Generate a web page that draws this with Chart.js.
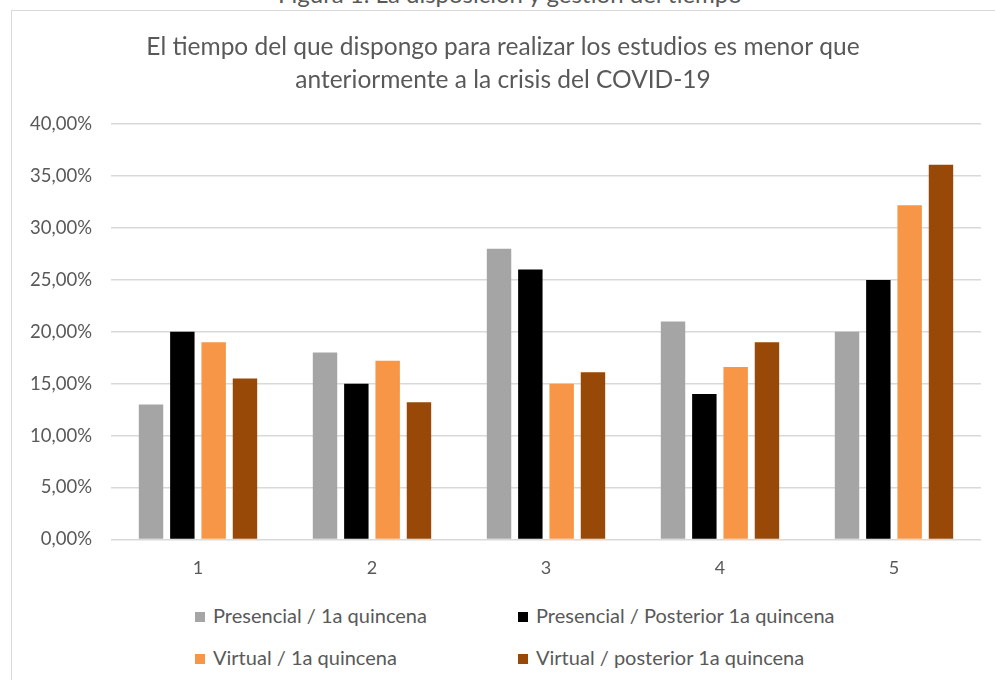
<!DOCTYPE html>
<html>
<head>
<meta charset="utf-8">
<script src="https://cdn.jsdelivr.net/npm/chart.js@4/dist/chart.umd.min.js"></script>
<style>
  body { margin: 0; background: #fff; width: 995px; height: 680px; overflow: hidden; position: relative; font-family: Lato, sans-serif; }
  #caption { position: absolute; left: 0; width: 1020px; top: -18px; text-align: center; font-size: 24px; line-height: 24px; color: #595959; }
  #frame { position: absolute; left: 11px; top: 10px; width: 1000px; height: 700px; border: 1.5px solid #d9d9d9; box-sizing: border-box; }
  #wrap { position: absolute; left: 0; top: 0; width: 995px; height: 589px; }
  .leg { position: absolute; font-size: 20px; color: #595959; line-height: 22px; white-space: nowrap; }
  .leg i { display: inline-block; width: 10px; height: 10px; margin-right: 8px; vertical-align: 1px; }
</style>
</head>
<body>
<div id="caption">Figura 1. La disposición y gestión del tiempo</div>
<div id="frame"></div>
<div id="wrap"><canvas id="chart"></canvas></div>
<div id="legend"></div>
<script>
const categories = ['1', '2', '3', '4', '5'];
const seriesNames = ['Presencial / 1a quincena', 'Presencial / Posterior 1a quincena', 'Virtual / 1a quincena', 'Virtual / posterior 1a quincena'];
const presencial1a = [13, 18, 28, 21, 20];
const presencialPost = [20, 15, 26, 14, 25];
const virtual1a = [19, 17.2, 15, 16.6, 32.2];
const virtualPost = [15.5, 13.2, 16.1, 19, 36.1];
const yTicks = [0, 5, 10, 15, 20, 25, 30, 35, 40];
const colors = ['#a5a5a5', '#000000', '#f79646', '#984807'];

const seriesValues = [presencial1a, presencialPost, virtual1a, virtualPost];

function makeDataset(i){
  return {
    label: seriesNames[i],
    data: seriesValues[i],
    backgroundColor: colors[i],
    categoryPercentage: 0.72,
    barPercentage: 0.78
  }
}

const txt = '#595959';

let chart = new Chart(document.getElementById('chart'), {
  type: 'bar',
  data: {
    labels: categories,
    datasets: seriesNames.map((n, i) => makeDataset(i))
  },
  options: {
    responsive: true,
    maintainAspectRatio: false,
    animation: false,
    layout: { padding: { left: 25, right: 14, top: 0, bottom: 0 } },
    scales: {
      x: {
        grid: { display: false },
        border: { display: false },
        ticks: { color: txt, font: { family: 'Lato', size: 18 }, padding: 10 }
      },
      y: {
        min: yTicks[0],
        max: yTicks[yTicks.length - 1],
        afterFit: (s) => { s.width = 86; },
        afterBuildTicks: (s) => { s.ticks = yTicks.map(v => ({ value: v })); },
        grid: { color: '#d9d9d9', lineWidth: 1.5, drawTicks: false },
        border: { display: false },
        ticks: {
          color: txt,
          font: { family: 'Lato', size: 18.5 },
          padding: 19,
          callback: (v) => v.toFixed(2).replace('.', ',') + '%'
        }
      }
    },
    plugins: {
      legend: { display: false },
      tooltip: { enabled: false },
      title: {
        display: true,
        text: ['El tiempo del que dispongo para realizar los estudios es menor que', 'anteriormente a la crisis del COVID-19'],
        color: txt,
        font: { family: 'Lato', size: 24.5, weight: 'normal', lineHeight: 1.33 },
        padding: { top: 31, bottom: 28 }
      }
    }
  }
});

// legend laid out in two columns like the original
const legPos = [[195, 615], [518, 615], [195, 657], [518, 657]];
const legend = document.getElementById('legend');
chart.data.datasets.forEach((ds, i) => {
  let d = document.createElement('div');
  d.className = 'leg';
  d.style.left = legPos[i][0] + 'px';
  d.style.top = (legPos[i][1] - 11) + 'px';
  d.innerHTML = '<i style="background:' + ds.backgroundColor + '"></i>' + ds.label;
  legend.appendChild(d);
});
</script>
</body>
</html>
